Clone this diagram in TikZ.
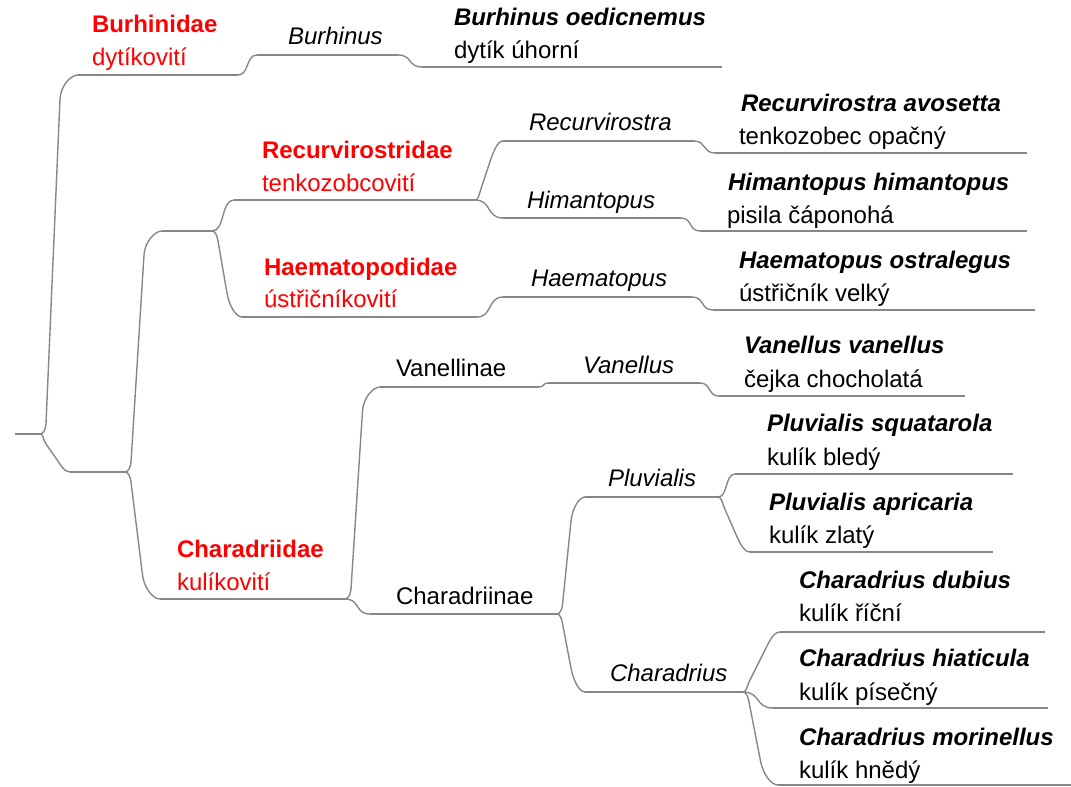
\documentclass[tikz,border=0pt]{standalone}
\usepackage{fontspec}
\setmainfont{Liberation Sans}
\usetikzlibrary{calc}
\newcommand\fsz{\fontsize{24}{28}\selectfont}
\definecolor{linegray}{RGB}{135,135,135}
\definecolor{famred}{RGB}{255,0,0}
\tikzset{
  conn/.style={draw=linegray, line width=1.4pt},
  % long bracket: rounded corner, slanted straight run, rounded corner
  br/.style={to path={
    let \p1=(\tikztostart), \p2=(\tikztotarget),
        \n1={ifthenelse(\y2>\y1,1,-1)},
        \n2={min(10,0.3*abs(\y2-\y1))},
        \n3={min(24,0.4*abs(\y2-\y1))},
        \n4={min(6,0.2*(\x2-\x1))},
        \n5={min(18,0.5*(\x2-\x1))},
        \n6={abs(\y2-\y1)-\n2-\n3},
        \n7={\x2-\x1-\n4-\n5}
    in .. controls ({\x1+0.6*\n4*1pt},{\y1})
          and ({\x1+\n4*1pt-0.45*\n2/\n6*\n7*1pt},{\y1+\n1*0.55*\n2*1pt}) ..
       ({\x1+\n4*1pt},{\y1+\n1*\n2*1pt})
       -- ({\x2-\n5*1pt},{\y2-\n1*\n3*1pt})
       .. controls ({\x2-\n5*1pt+0.55*\n3/\n6*\n7*1pt},{\y2-\n1*0.45*\n3*1pt})
          and ({\x2-0.4*\n5*1pt},{\y2}) .. (\tikztotarget)}},
  % short S-curve
  sc/.style={to path={
    let \p1=(\tikztostart), \p2=(\tikztotarget) in
    .. controls ({\x1+0.6*(\x2-\x1)},{\y1}) and ({\x2-0.6*(\x2-\x1)},{\y2}) .. (\tikztotarget)}},
  txt/.style={anchor=base west, inner sep=0pt, outer sep=0pt},
  famname/.style={txt, text=famred, font=\fsz\bfseries},
  famcz/.style={txt, text=famred, font=\fsz},
  genus/.style={txt, font=\fsz\itshape},
  subfam/.style={txt, font=\fsz},
  species/.style={txt, font=\fsz\bfseries\itshape},
  czname/.style={txt, font=\fsz},
}
\begin{document}
\begin{tikzpicture}[x=1pt,y=-1pt]
\useasboundingbox (0,0) rectangle (1071,787);

% tree points
\coordinate (r0) at (15,434);
\coordinate (r1) at (40,434);
\coordinate (fa0) at (78,75);   \coordinate (fa1) at (238,75);
\coordinate (ga0) at (257,55);  \coordinate (ga1) at (398,55);
\coordinate (sa0) at (422,67);  \coordinate (sa1) at (722,67);
\coordinate (n1a) at (70,472);  \coordinate (n1b) at (125,472);
\coordinate (n2a) at (162,231); \coordinate (n2b) at (212,231);
\coordinate (fb0) at (234,200); \coordinate (fb1) at (475,200);
\coordinate (gb0) at (503,141); \coordinate (gb1) at (694,141);
\coordinate (sb0) at (715,153); \coordinate (sb1) at (1027,153);
\coordinate (gc0) at (503,218); \coordinate (gc1) at (681,218);
\coordinate (sc0) at (700,231); \coordinate (sc1) at (1027,231);
\coordinate (fc0) at (242,317); \coordinate (fc1) at (477,317);
\coordinate (gd0) at (503,297); \coordinate (gd1) at (692,297);
\coordinate (sd0) at (713,310); \coordinate (sd1) at (1035,310);
\coordinate (fd0) at (160,599); \coordinate (fd1) at (345,599);
\coordinate (ua0) at (380,387); \coordinate (ua1) at (539,387);
\coordinate (ge0) at (548,383); \coordinate (ge1) at (700,383);
\coordinate (se0) at (719,396); \coordinate (se1) at (965,396);
\coordinate (ub0) at (370,614); \coordinate (ub1) at (557,614);
\coordinate (gf0) at (585,497); \coordinate (gf1) at (718,497);
\coordinate (sf0) at (735,474); \coordinate (sf1) at (1013,474);
\coordinate (sg0) at (750,552); \coordinate (sg1) at (993,552);
\coordinate (gh0) at (585,692); \coordinate (gh1) at (743,692);
\coordinate (sh0) at (780,632); \coordinate (sh1) at (1045,632);
\coordinate (si0) at (773,708); \coordinate (si1) at (1048,708);
\coordinate (sj0) at (778,785); \coordinate (sj1) at (1071,785);

% connectors
\draw[conn] (r0) -- (r1);
\draw[conn] (r1) to[br] (fa0);
\draw[conn] (fa0) -- (fa1);
\draw[conn] (fa1) to[sc] (ga0);
\draw[conn] (ga0) -- (ga1);
\draw[conn] (ga1) to[sc] (sa0);
\draw[conn] (sa0) -- (sa1);
\draw[conn] (r1) to[br] (n1a);
\draw[conn] (n1a) -- (n1b);
\draw[conn] (n1b) to[br] (n2a);
\draw[conn] (n2a) -- (n2b);
\draw[conn] (n2b) to[sc] (fb0);
\draw[conn] (fb0) -- (fb1);
\draw[conn] (fb1) to[br] (gb0);
\draw[conn] (gb0) -- (gb1);
\draw[conn] (gb1) to[sc] (sb0);
\draw[conn] (sb0) -- (sb1);
\draw[conn] (fb1) to[sc] (gc0);
\draw[conn] (gc0) -- (gc1);
\draw[conn] (gc1) to[sc] (sc0);
\draw[conn] (sc0) -- (sc1);
\draw[conn] (n2b) to[br] (fc0);
\draw[conn] (fc0) -- (fc1);
\draw[conn] (fc1) to[sc] (gd0);
\draw[conn] (gd0) -- (gd1);
\draw[conn] (gd1) to[sc] (sd0);
\draw[conn] (sd0) -- (sd1);
\draw[conn] (n1b) to[br] (fd0);
\draw[conn] (fd0) -- (fd1);
\draw[conn] (fd1) to[br] (ua0);
\draw[conn] (ua0) -- (ua1);
\draw[conn] (ua1) to[sc] (ge0);
\draw[conn] (ge0) -- (ge1);
\draw[conn] (ge1) to[sc] (se0);
\draw[conn] (se0) -- (se1);
\draw[conn] (fd1) to[sc] (ub0);
\draw[conn] (ub0) -- (ub1);
\draw[conn] (ub1) to[br] (gf0);
\draw[conn] (gf0) -- (gf1);
\draw[conn] (gf1) to[sc] (sf0);
\draw[conn] (sf0) -- (sf1);
\draw[conn] (gf1) to[br] (sg0);
\draw[conn] (sg0) -- (sg1);
\draw[conn] (ub1) to[br] (gh0);
\draw[conn] (gh0) -- (gh1);
\draw[conn] (gh1) to[br] (sh0);
\draw[conn] (sh0) -- (sh1);
\draw[conn] (gh1) to[sc] (si0);
\draw[conn] (si0) -- (si1);
\draw[conn] (gh1) to[br] (sj0);
\draw[conn] (sj0) -- (sj1);

% labels
\node[famname] (tBur) at (92,32) {Burhinidae};
\node[famcz] (tBurcz) at (92,65) {dytíkovití};
\node[genus] (tBurg) at (288,44) {Burhinus};
\node[species] (tBuroe) at (454,25) {Burhinus oedicnemus};
\node[czname] (tBuroecz) at (454,58) {dytík úhorní};

\node[famname] (tRec) at (262,158) {Recurvirostridae};
\node[famcz] (tReccz) at (262,191) {tenkozobcovití};
\node[genus] (tRecg) at (529,130) {Recurvirostra};
\node[species] (tRecav) at (741,111) {Recurvirostra avosetta};
\node[czname] (tRecavcz) at (739,144) {tenkozobec opačný};
\node[genus] (tHimg) at (527,208) {Himantopus};
\node[species] (tHimhi) at (728,190) {Himantopus himantopus};
\node[czname] (tHimhicz) at (727,223) {pisila čáponohá};

\node[famname] (tHae) at (264,275) {Haematopodidae};
\node[famcz] (tHaecz) at (264,307) {ústřičníkovití};
\node[genus] (tHaeg) at (531,286) {Haematopus};
\node[species] (tHaeos) at (739,268) {Haematopus ostralegus};
\node[czname] (tHaeoscz) at (739,301) {ústřičník velký};

\node[famname] (tCha) at (177,557) {Charadriidae};
\node[famcz] (tChacz) at (177,590) {kulíkovití};
\node[subfam] (tVansf) at (396,376) {Vanellinae};
\node[genus] (tVang) at (583,373) {Vanellus};
\node[species] (tVanva) at (744,353) {Vanellus vanellus};
\node[czname] (tVanvacz) at (744,387) {čejka chocholatá};
\node[subfam] (tChasf) at (396,604) {Charadriinae};
\node[genus] (tPlug) at (608,486) {Pluvialis};
\node[species] (tPlusq) at (767,431) {Pluvialis squatarola};
\node[czname] (tPlusqcz) at (767,465) {kulík bledý};
\node[species] (tPluap) at (769,510) {Pluvialis apricaria};
\node[czname] (tPluapcz) at (769,543) {kulík zlatý};
\node[genus] (tChag) at (610,681) {Charadrius};
\node[species] (tChadu) at (799,588) {Charadrius dubius};
\node[czname] (tChaducz) at (799,621) {kulík říční};
\node[species] (tChahi) at (799,666) {Charadrius hiaticula};
\node[czname] (tChahicz) at (799,700) {kulík písečný};
\node[species] (tChamo) at (799,745) {Charadrius morinellus};
\node[czname] (tChamocz) at (799,778) {kulík hnědý};
\end{tikzpicture}
\end{document}
